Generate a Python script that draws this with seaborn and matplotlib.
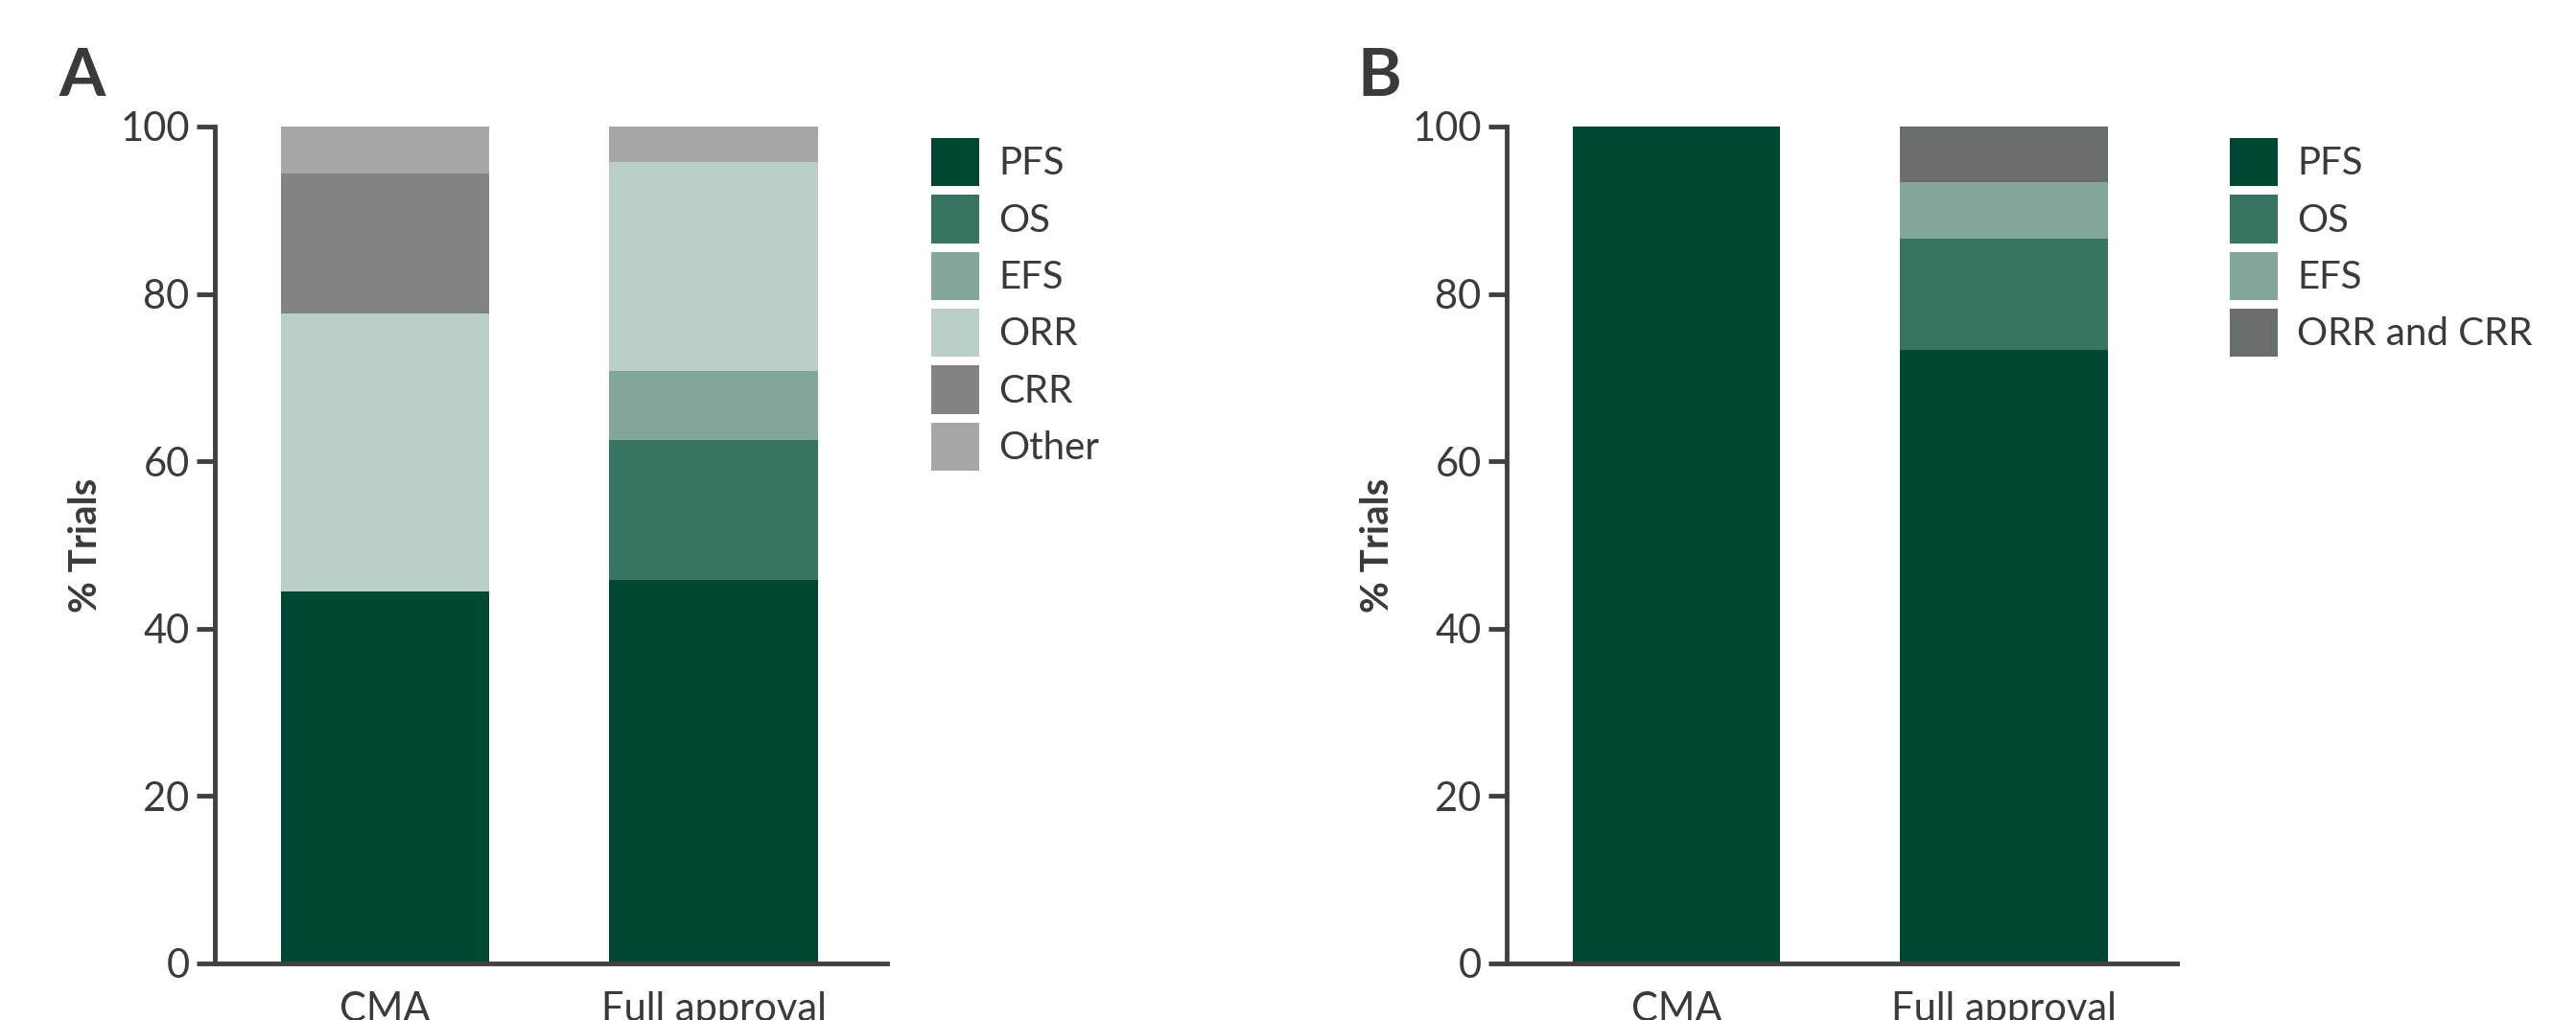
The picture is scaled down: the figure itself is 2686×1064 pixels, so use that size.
import numpy as np
import matplotlib.pyplot as plt
import seaborn as sns
from matplotlib.patches import Patch

groups = ["CMA", "Full approval"]

# panel A: % of trials by primary endpoint
labels_a = ["PFS", "OS", "EFS", "ORR", "CRR", "Other"]
pfs_a = [44.4, 45.8]
os_a = [0.0, 16.7]
efs_a = [0.0, 8.3]
orr_a = [33.3, 25.0]
crr_a = [16.7, 0.0]
other_a = [5.6, 4.2]
colors_a = ["#004833", "#377462", "#82a799", "#b9cfc7", "#828385", "#a7a7a7"]

# panel B
labels_b = ["PFS", "OS", "EFS", "ORR and CRR"]
pfs_b = [100.0, 73.3]
os_b = [0.0, 13.3]
efs_b = [0.0, 6.7]
orrcrr_b = [0.0, 6.7]
colors_b = ["#004833", "#377462", "#82a799", "#6b6e6e"]

sns.set_style("white")
plt.rcParams["font.family"] = ["Lato", "DejaVu Sans"]

TXT = "#3a3a3a"
AX = "#404040"

fig = plt.figure(figsize=(26.86, 10.64), dpi=100)
ax_a = fig.add_axes([0.0834, 0.0555, 0.261, 0.8205])
ax_b = fig.add_axes([0.5849, 0.0555, 0.2602, 0.8205])


def stacked(ax, series, colors, labels, leg_x):
    cum = np.cumsum(np.array(series), axis=0)
    # draw tallest cumulative first so each segment shows on top
    for k in range(len(series) - 1, -1, -1):
        sns.barplot(x=groups, y=cum[k], color=colors[k], saturation=1,
                    width=0.635, linewidth=0, ax=ax)
    ax.set_xlim(-0.518, 1.528)
    ax.set_ylim(0, 100)
    ax.set_yticks([0, 20, 40, 60, 80, 100])
    sns.despine(ax=ax)
    for s in ["left", "bottom"]:
        ax.spines[s].set_linewidth(3.5)
        ax.spines[s].set_color(AX)
    ax.tick_params(axis="y", length=14, width=3.5, color=AX, labelsize=30,
                   labelcolor=TXT, pad=5, left=True)
    ax.tick_params(axis="x", length=0, labelsize=30, labelcolor=TXT, pad=21)
    ax.set_ylabel("% Trials", fontsize=29, fontweight="bold", color=TXT,
                  labelpad=12)
    ax.set_xlabel("")
    handles = [Patch(facecolor=c, edgecolor="none") for c in colors]
    ax.legend(handles, labels, loc="upper left",
              bbox_to_anchor=(leg_x, 1 - 144 / 1064),
              bbox_transform=fig.transFigure, frameon=False, fontsize=29,
              handlelength=1.25, handleheight=1.55, labelspacing=0.22,
              handletextpad=0.5, borderpad=0, borderaxespad=0,
              labelcolor=TXT)


stacked(ax_a, [pfs_a, os_a, efs_a, orr_a, crr_a, other_a], colors_a,
        labels_a, 971 / 2686)
stacked(ax_b, [pfs_b, os_b, efs_b, orrcrr_b], colors_b, labels_b,
        2325 / 2686)

fig.text(61 / 2686, 1 - 49 / 1064, "A", fontsize=50, fontweight="bold",
         color=TXT, va="top", ha="left")
fig.text(1415 / 2686, 1 - 49 / 1064, "B", fontsize=50, fontweight="bold",
         color=TXT, va="top", ha="left")

fig.savefig("out.png", dpi=100)
